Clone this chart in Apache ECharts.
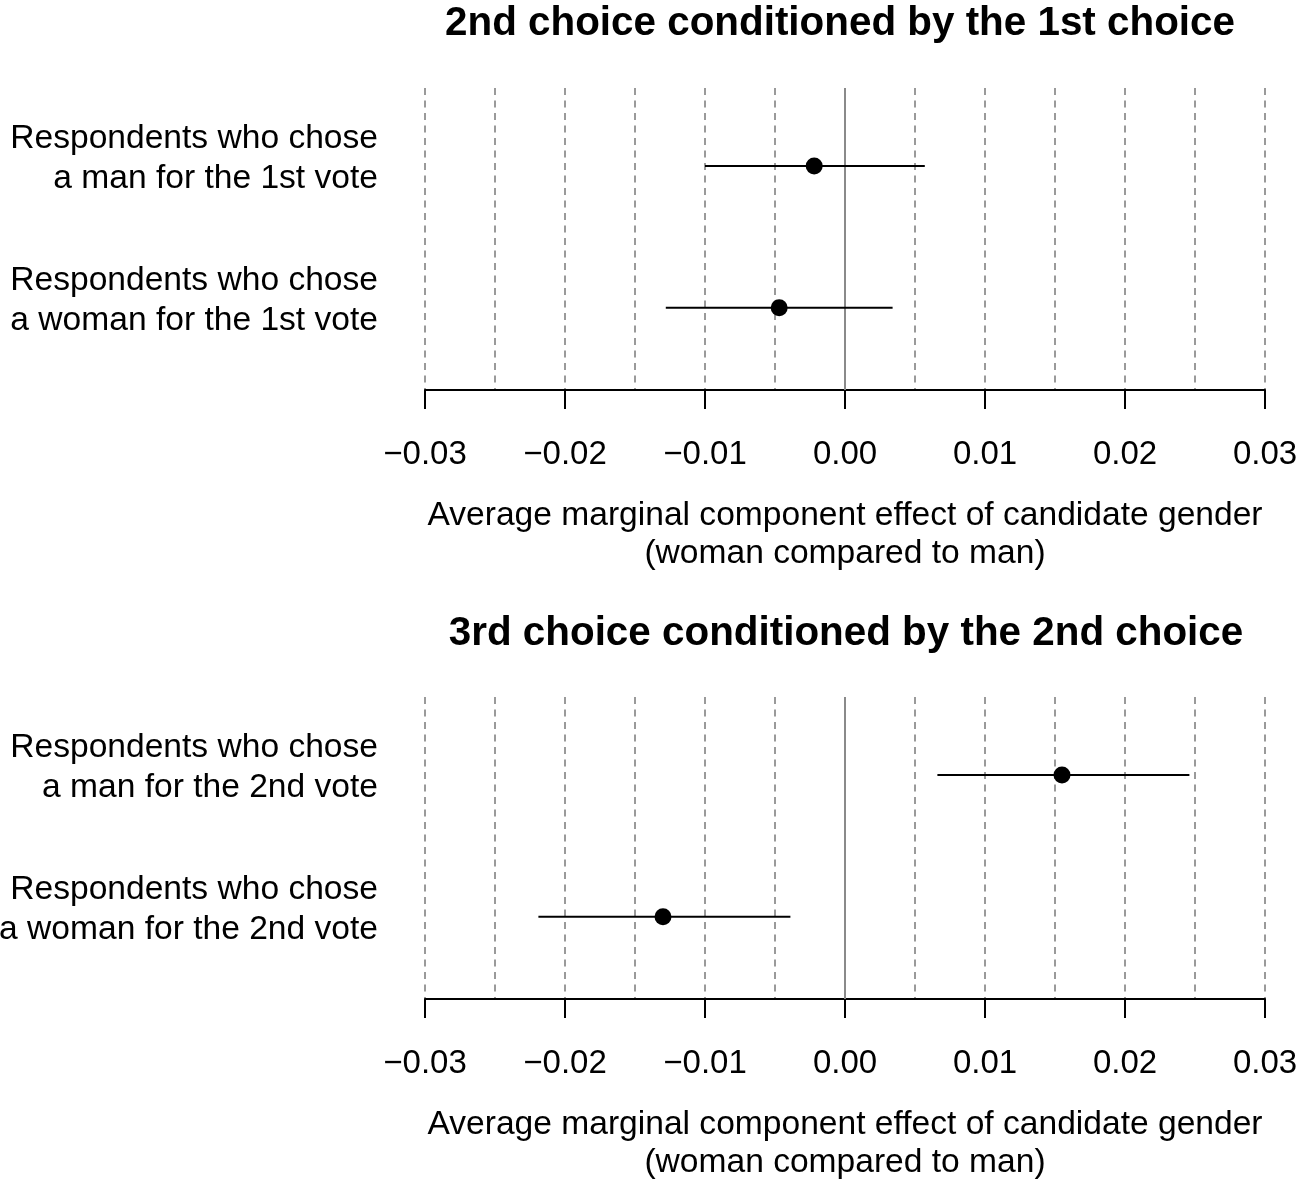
<!DOCTYPE html>
<html>
<head>
<meta charset="utf-8">
<script src="https://cdn.jsdelivr.net/npm/echarts@6/dist/echarts.min.js"></script>
<style>
html,body{margin:0;padding:0;background:#fff;}
#c{width:1300px;height:1186px;}
</style>
</head>
<body>
<div id="c"></div>
<script>
// ---- data ----
const titles = ["2nd choice conditioned by the 1st choice", "3rd choice conditioned by the 2nd choice"];
const labels1 = ["Respondents who chose\na man for the 1st vote", "Respondents who chose\na woman for the 1st vote"];
const labels2 = ["Respondents who chose\na man for the 2nd vote", "Respondents who chose\na woman for the 2nd vote"];
const rowPos = [2, 1];
const est1 = [-0.0022, -0.0047];
const lo1 = [-0.0100, -0.0128];
const hi1 = [0.0057, 0.0034];
const est2 = [0.0155, -0.0130];
const lo2 = [0.0066, -0.0219];
const hi2 = [0.0246, -0.0039];
const xTicks = [-0.03, -0.02, -0.01, 0.00, 0.01, 0.02, 0.03];
const xName = "Average marginal component effect of candidate gender\n(woman compared to man)";

const FONT = "'Liberation Sans', Arial, sans-serif";
const chart = echarts.init(document.getElementById('c'), null, {renderer: 'canvas'});

function fmtTick(v) {
  const s = Math.abs(v).toFixed(2);
  return (v < -1e-9 ? '\u2212' : '') + s;
}

function makeX(gi) {
  return [
    {
      type: 'value', gridIndex: gi, min: -0.03, max: 0.03, interval: 0.01,
      position: 'bottom',
      axisLine: {show: true, onZero: false, lineStyle: {color: '#000', width: 2}},
      axisTick: {show: true, length: 19, lineStyle: {color: '#000', width: 2}},
      axisLabel: {show: true, margin: 48, fontSize: 33, color: '#000', fontFamily: FONT,
        customValues: xTicks, formatter: fmtTick},
      splitLine: {show: false},
      name: xName, nameLocation: 'middle', nameGap: 107,
      nameTextStyle: {fontSize: 33.6, color: '#000', fontFamily: FONT, lineHeight: 38, verticalAlign: 'top'}
    },
    {
      type: 'value', gridIndex: gi, min: -0.03, max: 0.03, interval: 0.005,
      position: 'top',
      axisLine: {show: false}, axisTick: {show: false}, axisLabel: {show: false},
      splitLine: {show: true, lineStyle: {color: '#9a9a9a', width: 2, type: [7, 5.5]}}
    }
  ];
}

function makeY(gi, labs) {
  return {
    type: 'value', gridIndex: gi, min: 0.42, max: 2.55,
    axisLine: {show: false}, axisTick: {show: false}, splitLine: {show: false},
    axisLabel: {
      show: true, customValues: rowPos, margin: 47,
      color: '#000', fontFamily: FONT, align: 'right', verticalAlign: 'middle',
      formatter: function (v) {
        const i = rowPos.indexOf(Math.round(v));
        if (i < 0) return '';
        return labs[i].split('\n').map(s => '{t|' + s + '}').join('\n') + '\n{s| }';
      },
      rich: {
        t: {fontSize: 33.6, lineHeight: 40, color: '#000', fontFamily: FONT, align: 'right'},
        s: {fontSize: 10, lineHeight: 14}
      }
    }
  };
}

function ciSeries(gi, lo, hi) {
  return {
    type: 'custom', xAxisIndex: gi * 2, yAxisIndex: gi,
    data: lo.map((l, i) => [l, hi[i], rowPos[i]]),
    encode: {x: [0, 1], y: 2},
    renderItem: function (params, api) {
      const a = api.coord([api.value(0), api.value(2)]);
      const b = api.coord([api.value(1), api.value(2)]);
      return {type: 'line', shape: {x1: a[0], y1: a[1], x2: b[0], y2: b[1]},
        style: {stroke: '#000', lineWidth: 2}};
    },
    silent: true, z: 3
  };
}

function ptSeries(gi, est) {
  return {
    type: 'scatter', xAxisIndex: gi * 2, yAxisIndex: gi,
    data: est.map((e, i) => [e, rowPos[i]]),
    symbol: 'circle', symbolSize: 17,
    itemStyle: {color: '#000', opacity: 1}, silent: true, z: 4,
    markLine: {
      silent: true, symbol: ['none', 'none'], label: {show: false},
      lineStyle: {color: '#8a8a8a', width: 2, type: 'solid'},
      data: [{xAxis: 0}], z: 2
    }
  };
}

const option = {
  backgroundColor: '#fff',
  animation: false,
  title: [
    {text: titles[0], left: 835, top: -1, textAlign: 'center',
      textStyle: {fontSize: 40.4, fontWeight: 'bold', color: '#000', fontFamily: FONT}},
    {text: titles[1], left: 841, top: 609, textAlign: 'center',
      textStyle: {fontSize: 40.4, fontWeight: 'bold', color: '#000', fontFamily: FONT}}
  ],
  grid: [
    {left: 425, width: 840, top: 88, height: 302, containLabel: false, outerBoundsMode: 'none'},
    {left: 425, width: 840, top: 697, height: 302, containLabel: false, outerBoundsMode: 'none'}
  ],
  xAxis: [...makeX(0), ...makeX(1)],
  yAxis: [makeY(0, labels1), makeY(1, labels2)],
  series: [
    ciSeries(0, lo1, hi1), ptSeries(0, est1),
    ciSeries(1, lo2, hi2), ptSeries(1, est2)
  ]
};
chart.setOption(option);
</script>
</body>
</html>
